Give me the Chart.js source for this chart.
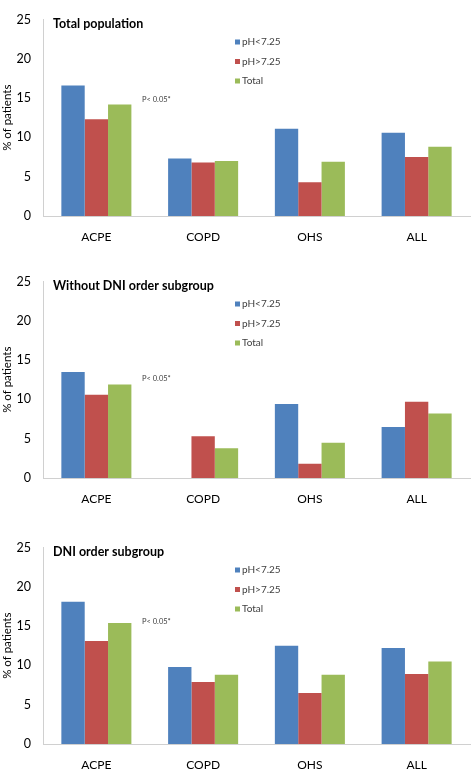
<!DOCTYPE html>
<html>
<head>
<meta charset="utf-8">
<script src="https://cdn.jsdelivr.net/npm/chart.js@4/dist/chart.umd.min.js"></script>
<style>
  body { margin: 0; background: #fff; }
  .panel { position: absolute; left: 0; width: 472px; height: 243px; }
</style>
</head>
<body>
<div class="panel" style="top:0px"><canvas id="chart1" width="472" height="243"></canvas></div>
<div class="panel" style="top:262px"><canvas id="chart2" width="472" height="243"></canvas></div>
<div class="panel" style="top:528px"><canvas id="chart3" width="472" height="243"></canvas></div>
<script>
// categories and series
const categories = ['ACPE', 'COPD', 'OHS', 'ALL'];
const seriesNames = ['pH<7.25', 'pH>7.25', 'Total'];
const seriesColors = ['#4F81BD', '#C0504D', '#9BBB59'];
const yTicks = [0, 5, 10, 15, 20, 25];

const panelTitles = ['Total population', 'Without DNI order subgroup', 'DNI order subgroup'];

// Total population
const totalLow = [16.6, 7.3, 11.1, 10.6];
const totalHigh = [12.3, 6.8, 4.3, 7.5];
const totalAll = [14.2, 7.0, 6.9, 8.8];

// Without DNI order subgroup
const noDniLow = [13.5, 0, 9.4, 6.5];
const noDniHigh = [10.6, 5.3, 1.8, 9.7];
const noDniAll = [11.9, 3.8, 4.5, 8.2];

// DNI order subgroup
const dniLow = [18.1, 9.8, 12.5, 12.2];
const dniHigh = [13.1, 7.9, 6.5, 8.9];
const dniAll = [15.4, 8.8, 8.8, 10.5];

const pLabel = 'P< 0.05*';
const pLabelY = [14.8, 12.7, 15.6];

Chart.defaults.font.family = 'Lato, "Open Sans", sans-serif';

// draws the panel title, the vertical legend and the p-value note inside the plot
const panelDecor = {
    id: 'panelDecor',
    afterDraw(chart, args, opts) {
        const ctx = chart.ctx;
        const area = chart.chartArea;
        const y = chart.scales.y;
        ctx.save();
        ctx.textBaseline = 'middle';
        ctx.textAlign = 'left';

        ctx.fillStyle = '#000';
        ctx.font = 'bold 12.5px Lato, sans-serif';
        ctx.fillText(opts.title, area.left + 10, area.top + 4);

        ctx.font = '10px Lato, sans-serif';
        chart.data.datasets.forEach((ds, i) => {
            const ly = area.top + 22.5 + i * 19.5;
            ctx.fillStyle = ds.backgroundColor;
            ctx.fillRect(area.left + 192, ly - 2.5, 5, 5);
            ctx.fillStyle = '#404040';
            ctx.fillText(ds.label, area.left + 199, ly);
        });

        ctx.font = '7.5px Lato, sans-serif';
        ctx.fillStyle = '#404040';
        ctx.fillText(pLabel, area.left + 99, y.getPixelForValue(opts.pY));
        ctx.restore();
    }
};

function makeChart(id, title, low, high, all, pY) {
    const values = [low, high, all];
    new Chart(document.getElementById(id), {
        type: 'bar',
        data: {
            labels: categories,
            datasets: seriesNames.map((name, i) => ({
                label: name,
                data: values[i],
                backgroundColor: seriesColors[i],
                barPercentage: 1,
                categoryPercentage: 0.656
            }))
        },
        options: {
            responsive: false,
            animation: false,
            devicePixelRatio: 1,
            layout: { padding: { top: 7, right: 2, bottom: 0, left: 0 } },
            plugins: {
                legend: { display: false },
                tooltip: { enabled: false },
                panelDecor: { title: title, pY: pY }
            },
            scales: {
                x: {
                    grid: { display: false, drawTicks: false },
                    border: { display: true, color: '#D0D0D0', width: 1 },
                    ticks: { color: '#000', font: { size: 12 }, padding: 14 },
                    afterFit(scale) { scale.height = 27; }
                },
                y: {
                    min: 0,
                    max: 25,
                    afterBuildTicks(scale) { scale.ticks = yTicks.map(v => ({ value: v })); },
                    grid: { display: false, drawTicks: false },
                    border: { display: true, color: '#D0D0D0', width: 1 },
                    ticks: { color: '#000', font: { size: 12.5 }, padding: 12 },
                    title: {
                        display: true,
                        text: '% of patients',
                        color: '#000',
                        font: { size: 11.5 },
                        padding: 0
                    },
                    afterFit(scale) { scale.width = 43; }
                }
            }
        },
        plugins: [panelDecor]
    });
}

makeChart('chart1', panelTitles[0], totalLow, totalHigh, totalAll, pLabelY[0]);
makeChart('chart2', panelTitles[1], noDniLow, noDniHigh, noDniAll, pLabelY[1]);
makeChart('chart3', panelTitles[2], dniLow, dniHigh, dniAll, pLabelY[2]);
</script>
</body>
</html>
